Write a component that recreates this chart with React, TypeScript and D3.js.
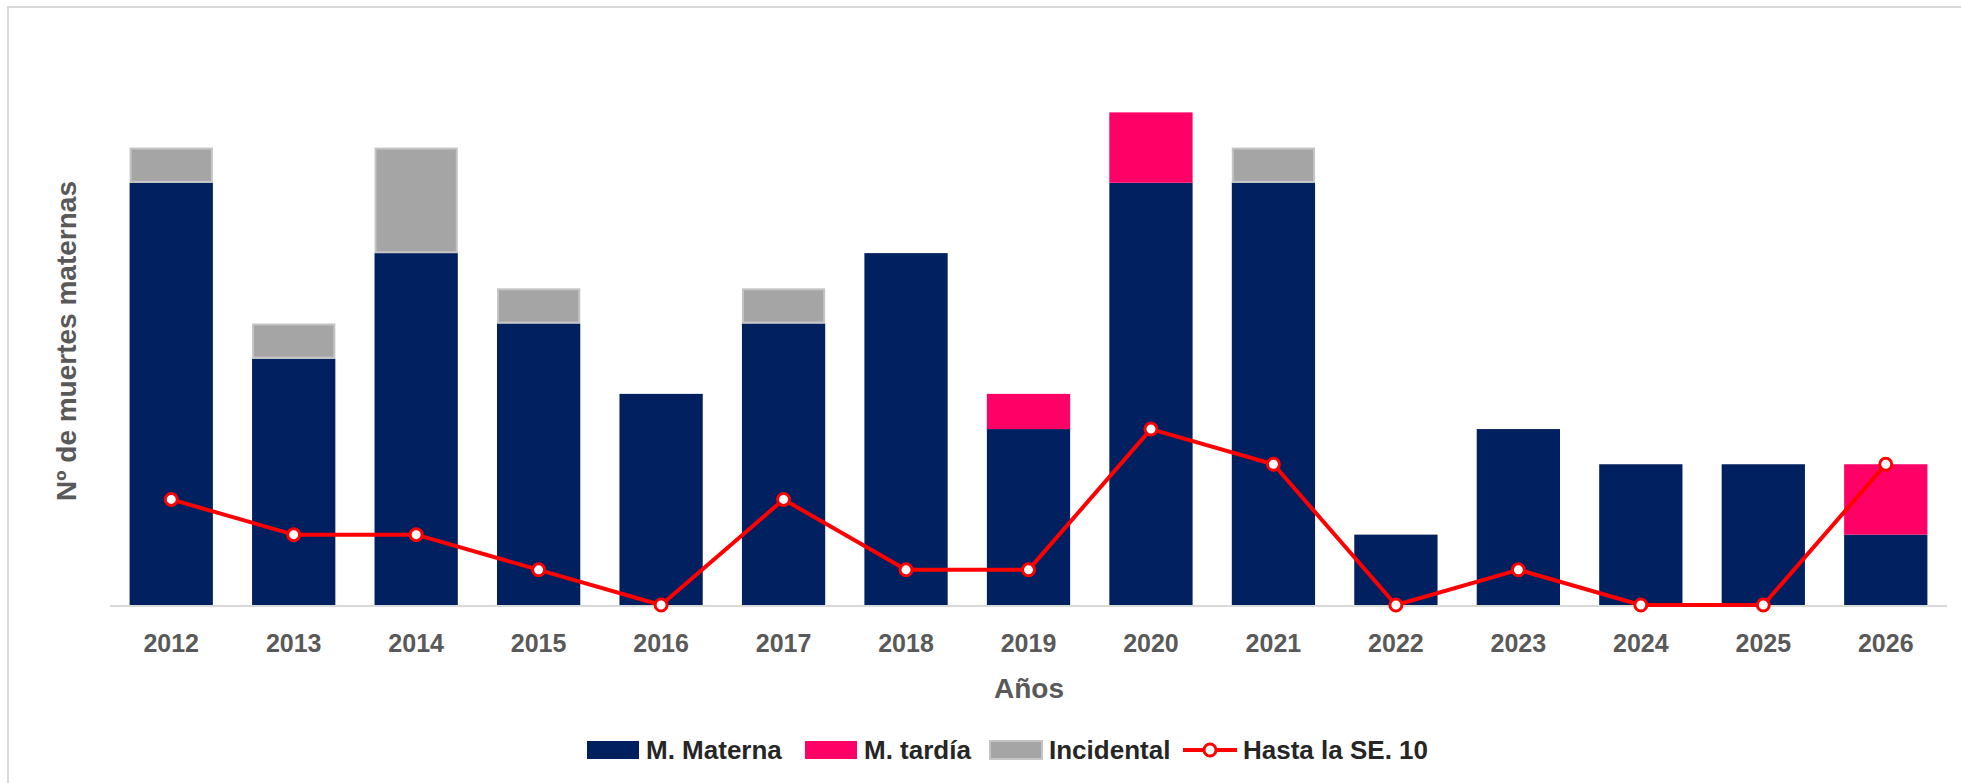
import React, { useEffect, useRef } from "react"
import * as d3 from "d3"

// datos
const years = ["2012", "2013", "2014", "2015", "2016", "2017", "2018", "2019", "2020", "2021", "2022", "2023", "2024", "2025", "2026"]
const materna = [12, 7, 10, 8, 6, 8, 10, 5, 12, 12, 2, 5, 4, 4, 2]
const tardia = [0, 0, 0, 0, 0, 0, 0, 1, 2, 0, 0, 0, 0, 0, 2]
const incidental = [1, 1, 3, 1, 0, 1, 0, 0, 0, 1, 0, 0, 0, 0, 0]
const hastaSE10 = [3, 2, 2, 1, 0, 3, 1, 1, 5, 4, 0, 1, 0, 0, 4]

const seriesNames = ["M. Materna", "M. tardía", "Incidental"]
const colors = ["#002060", "#ff0066", "#a5a5a5"]
const lineName = "Hasta la SE. 10"

const W = 1961
const H = 783
const FONT = "'Liberation Sans', Arial, sans-serif"

export default function App() {
  const ref = useRef<SVGSVGElement>(null)

  useEffect(() => {
    const svg = d3.select(ref.current)
    svg.selectAll("*").remove()

    // marco
    svg.append("rect")
      .attr("x", 8).attr("y", 7)
      .attr("width", W).attr("height", H)
      .attr("fill", "white")
      .attr("stroke", "#d9d9d9")
      .attr("stroke-width", 2)

    const x = d3.scaleBand()
      .domain(years)
      .range([110, 1947])
      .paddingInner(0.32)
      .paddingOuter(0.16)

    const y = d3.scaleLinear()
      .domain([0, 16])
      .range([605, 42])

    const table = years.map((yr, i) => ({
      year: yr,
      "M. Materna": materna[i],
      "M. tardía": tardia[i],
      "Incidental": incidental[i],
    }))
    const stacked = d3.stack<any>().keys(seriesNames)(table)

    const bars = svg.append("g")
    stacked.forEach((layer, k) => {
      bars.append("g")
        .attr("fill", colors[k])
        .attr("stroke", k === 2 ? "#c4c4c4" : "none")
        .attr("stroke-width", k === 2 ? 2 : 0)
        .selectAll("rect")
        .data(layer.filter(d => d[1] - d[0] > 0))
        .enter()
        .append("rect")
        .attr("x", d => x(d.data.year)! + (k === 2 ? 1 : 0))
        .attr("width", x.bandwidth() - (k === 2 ? 2 : 0))
        .attr("y", d => y(d[1]) + (k === 2 ? 1 : 0))
        .attr("height", d => y(d[0]) - y(d[1]) - (k === 2 ? 2 : 0))
    })

    // eje x
    svg.append("line")
      .attr("x1", 110).attr("x2", 1947)
      .attr("y1", y(0) + 1).attr("y2", y(0) + 1)
      .attr("stroke", "#d9d9d9")
      .attr("stroke-width", 2)

    svg.append("g")
      .selectAll("text")
      .data(years)
      .enter()
      .append("text")
      .attr("x", d => x(d)! + x.bandwidth() / 2)
      .attr("y", 652)
      .attr("text-anchor", "middle")
      .attr("fill", "#595959")
      .attr("font-family", FONT)
      .attr("font-weight", "bold")
      .attr("font-size", 25)
      .text(d => d)

    // línea
    const line = d3.line<number>()
      .x((d, i) => x(years[i])! + x.bandwidth() / 2)
      .y(d => y(d))

    svg.append("path")
      .datum(hastaSE10)
      .attr("d", line)
      .attr("fill", "none")
      .attr("stroke", "#ff0000")
      .attr("stroke-width", 4)
      .attr("stroke-linejoin", "round")

    svg.append("g")
      .selectAll("circle")
      .data(hastaSE10)
      .enter()
      .append("circle")
      .attr("cx", (d, i) => x(years[i])! + x.bandwidth() / 2)
      .attr("cy", d => y(d))
      .attr("r", 6)
      .attr("fill", "white")
      .attr("stroke", "#ff0000")
      .attr("stroke-width", 3)

    // títulos
    svg.append("text")
      .attr("transform", "translate(76,341) rotate(-90)")
      .attr("text-anchor", "middle")
      .attr("fill", "#595959")
      .attr("font-family", FONT)
      .attr("font-weight", "bold")
      .attr("font-size", 28)
      .text("Nº de muertes maternas")

    svg.append("text")
      .attr("x", 1029).attr("y", 698)
      .attr("text-anchor", "middle")
      .attr("fill", "#595959")
      .attr("font-family", FONT)
      .attr("font-weight", "bold")
      .attr("font-size", 28)
      .text("Años")

    // leyenda
    const legendX = [587, 805, 990, 1183]
    const legend = svg.append("g")
    seriesNames.forEach((name, k) => {
      legend.append("rect")
        .attr("x", legendX[k]).attr("y", 741)
        .attr("width", 52).attr("height", 18)
        .attr("fill", colors[k])
        .attr("stroke", k === 2 ? "#c4c4c4" : "none")
        .attr("stroke-width", 2)
      legend.append("text")
        .attr("x", legendX[k] + 59).attr("y", 759)
        .attr("fill", "#262626")
        .attr("font-family", FONT)
        .attr("font-weight", "bold")
        .attr("font-size", 26)
        .text(name)
    })
    legend.append("line")
      .attr("x1", legendX[3]).attr("x2", legendX[3] + 54)
      .attr("y1", 750).attr("y2", 750)
      .attr("stroke", "#ff0000")
      .attr("stroke-width", 4)
    legend.append("circle")
      .attr("cx", legendX[3] + 27).attr("cy", 750)
      .attr("r", 6)
      .attr("fill", "white")
      .attr("stroke", "#ff0000")
      .attr("stroke-width", 3)
    legend.append("text")
      .attr("x", legendX[3] + 60).attr("y", 759)
      .attr("fill", "#262626")
      .attr("font-family", FONT)
      .attr("font-weight", "bold")
      .attr("font-size", 26)
      .text(lineName)
  }, [])

  return (
    <svg
      ref={ref}
      width={W}
      height={H}
      style={{ position: "absolute", left: 0, top: 0, display: "block" }}
    />
  )
}
